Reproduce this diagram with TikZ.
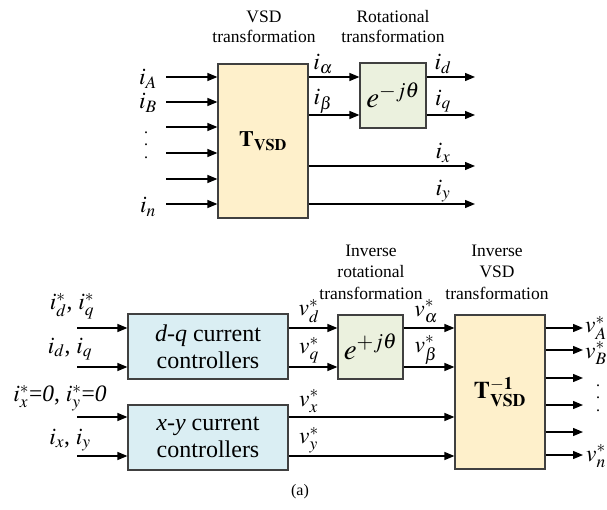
\documentclass[tikz,border=0pt]{standalone}
\usepackage{mathptmx}
\usepackage{fontspec}
\setmainfont{Liberation Serif}
\usetikzlibrary{arrows.meta}

\definecolor{vsdfill}{HTML}{FEF0CB}
\definecolor{rotfill}{HTML}{EBF1DE}
\definecolor{ctrlfill}{HTML}{DAEEF3}
\definecolor{boxline}{HTML}{404040}

\tikzset{
  blk/.style={draw=boxline, line width=1.2pt, inner sep=0pt, align=center},
  sig/.style={-{Triangle[length=10pt,width=8pt]}, line width=1.3pt},
  head/.style={align=center, inner sep=0pt, font=\fontsize{17.5}{20}\selectfont},
  lbl/.style={inner sep=0pt, font=\fontsize{23.5}{24}\selectfont},
  vdots/.style={align=center, inner sep=0pt, font=\fontsize{16}{12.5}\selectfont},
  boxtext/.style={font=\fontsize{24}{27}\selectfont},
}

\begin{document}
\begin{tikzpicture}[x=1pt, y=-1pt]
  \useasboundingbox (0,0) rectangle (607,510);

  % forward transformation
  \node (tvsd) at (263,141) [blk, fill=vsdfill, minimum width=90pt, minimum height=154pt]
    {\fontsize{22}{22}\selectfont$\mathbf{T}_{\mathbf{VSD}}$};
  \node (rot) at (393,95.5) [blk, fill=rotfill, minimum width=66pt, minimum height=65pt]
    {\fontsize{29}{29}\selectfont$e^{-j\theta}$};

  \node (hvsd) at (264,27) [head] {VSD\\transformation};
  \node (hrot) at (393,27) [head] {Rotational\\transformation};

  \foreach \n/\y in {1/77, 2/102, 3/127, 4/153, 5/179, 6/204} {
    \coordinate (in\n) at (166,\y);
    \draw[sig] (in\n) -- (tvsd.west |- in\n);
  }
  \coordinate (ta) at (0,77);
  \coordinate (tb) at (0,115);
  \coordinate (tx) at (475,166);
  \coordinate (ty) at (475,204);
  \coordinate (od) at (475,77);
  \coordinate (oq) at (475,115);

  \draw[sig] (tvsd.east |- ta) -- (rot.west |- ta);
  \draw[sig] (tvsd.east |- tb) -- (rot.west |- tb);
  \draw[sig] (rot.east |- od) -- (od);
  \draw[sig] (rot.east |- oq) -- (oq);
  \draw[sig] (tvsd.east |- tx) -- (tx);
  \draw[sig] (tvsd.east |- ty) -- (ty);

  \node (liA) at (148,79) [lbl] {$i_A$};
  \node (liB) at (148,103) [lbl] {$i_B$};
  \node (ldots) at (146,145) [vdots] {.\\.\\.};
  \node (lin) at (148,207) [lbl] {$i_n$};
  \node (lia) at (323,64) [lbl] {$i_\alpha$};
  \node (lib) at (323,101) [lbl] {$i_\beta$};
  \node (lid) at (443,64) [lbl] {$i_d$};
  \node (liq) at (443,101) [lbl] {$i_q$};
  \node (lix) at (443,153) [lbl] {$i_x$};
  \node (liy) at (443,191) [lbl] {$i_y$};

  % inverse transformation
  \node (dq) at (208,346.5) [blk, fill=ctrlfill, minimum width=160pt, minimum height=65pt, boxtext]
    {\textit{d-q} current\\controllers};
  \node (xy) at (208,437.5) [blk, fill=ctrlfill, minimum width=160pt, minimum height=65pt, boxtext]
    {\textit{x-y} current\\controllers};
  \node (irot) at (370.5,347) [blk, fill=rotfill, minimum width=65pt, minimum height=64pt]
    {\fontsize{29}{29}\selectfont$e^{+j\theta}$};
  \node (itvsd) at (500,392) [blk, fill=vsdfill, minimum width=90pt, minimum height=154pt]
    {\fontsize{24}{24}\selectfont$\mathbf{T}^{\mathbf{-1}}_{\mathbf{VSD}}$};

  \node (hirot) at (371,272) [head, font=\fontsize{17.5}{21.5}\selectfont] {Inverse\\rotational\\transformation};
  \node (hivsd) at (497,272) [head, font=\fontsize{17.5}{21.5}\selectfont] {Inverse\\VSD\\transformation};

  \coordinate (cdr) at (77,328);
  \coordinate (cdm) at (77,367);
  \coordinate (cxr) at (77,417);
  \coordinate (cxm) at (77,456);
  \draw[sig] (cdr) -- (dq.west |- cdr);
  \draw[sig] (cdm) -- (dq.west |- cdm);
  \draw[sig] (cxr) -- (xy.west |- cxr);
  \draw[sig] (cxm) -- (xy.west |- cxm);

  \draw[sig] (dq.east |- cdr) -- (irot.west |- cdr);
  \draw[sig] (dq.east |- cdm) -- (irot.west |- cdm);
  \draw[sig] (irot.east |- cdr) -- (itvsd.west |- cdr);
  \draw[sig] (irot.east |- cdm) -- (itvsd.west |- cdm);
  \draw[sig] (xy.east |- cxr) -- (itvsd.west |- cxr);
  \draw[sig] (xy.east |- cxm) -- (itvsd.west |- cxm);

  \foreach \n/\y in {1/328, 2/350, 3/378, 4/405, 5/432, 6/455} {
    \coordinate (out\n) at (583,\y);
    \draw[sig] (itvsd.east |- out\n) -- (out\n);
  }

  \node (lref) at (72,306) [lbl] {$i_d^*$, $i_q^*$};
  \node (lmeas) at (70,349) [lbl] {$i_d$, $i_q$};
  \node (lxref) at (60,398) [lbl] {$i_x^*$=\textit{0}, $i_y^*$=\textit{0}};
  \node (lxmeas) at (70,440) [lbl] {$i_x$, $i_y$};
  \node (lvd) at (309,311) [lbl] {$v_d^*$};
  \node (lvq) at (309,350) [lbl] {$v_q^*$};
  \node (lvx) at (309,401) [lbl] {$v_x^*$};
  \node (lvy) at (309,440) [lbl] {$v_y^*$};
  \node (lva) at (426,311) [lbl] {$v_\alpha^*$};
  \node (lvb) at (426,350) [lbl] {$v_\beta^*$};
  \node (lvA) at (596,328) [lbl] {$v_A^*$};
  \node (lvB) at (596,353) [lbl] {$v_B^*$};
  \node (lvdots) at (598,398) [vdots] {.\\.\\.};
  \node (lvn) at (596,456) [lbl] {$v_n^*$};

  \node (cap) at (300,492) [font=\fontsize{16}{18}\selectfont] {(a)};
\end{tikzpicture}
\end{document}
